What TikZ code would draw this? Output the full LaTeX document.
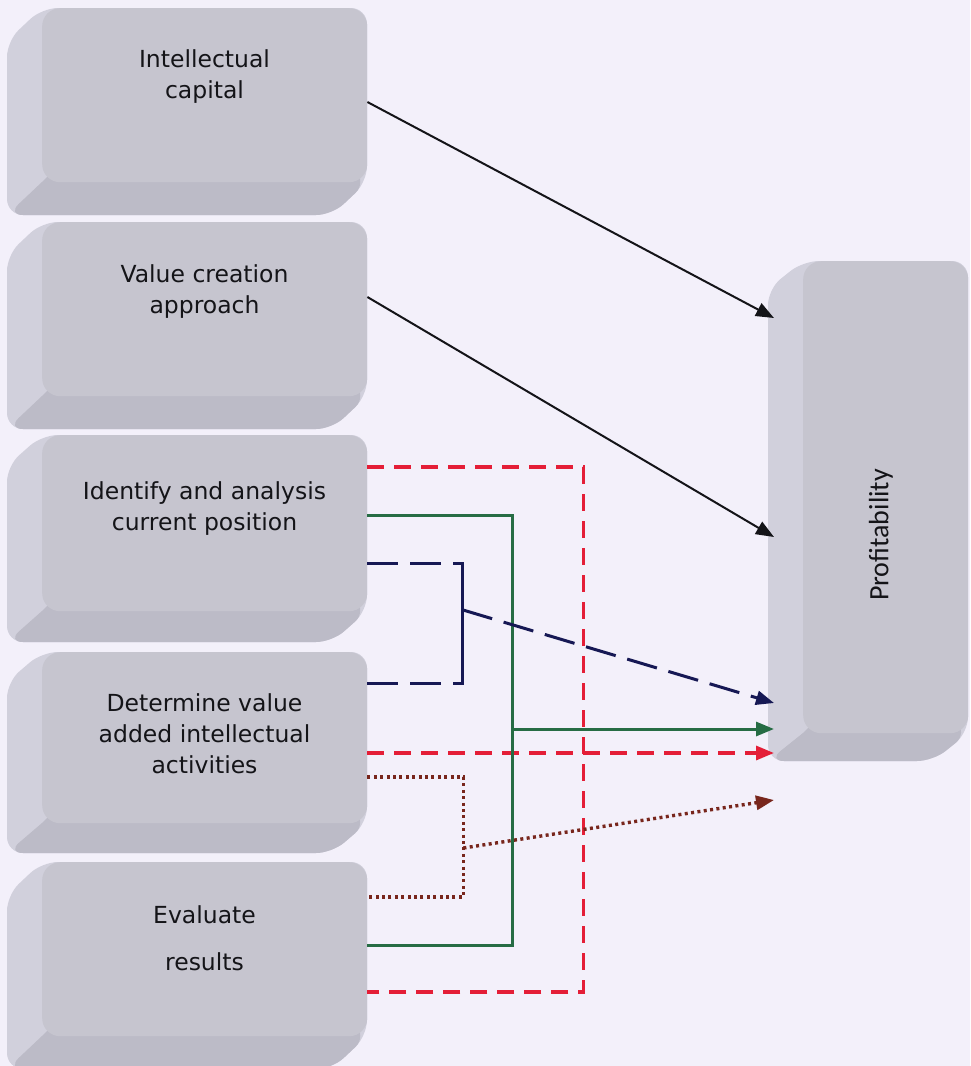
\documentclass[tikz,border=0pt]{standalone}
\usepackage{fontspec}
\setmainfont{DejaVu Sans}
\newfontfamily\calibfont{Carlito}
\usetikzlibrary{arrows.meta,calc}

\definecolor{paper}{RGB}{243,240,250}
\definecolor{facegrey}{RGB}{198,197,207}
\definecolor{sidegrey}{RGB}{209,208,220}
\definecolor{bottomgrey}{RGB}{188,187,199}
\definecolor{inkblack}{RGB}{20,20,24}
\definecolor{linkred}{RGB}{228,30,55}
\definecolor{linkgreen}{RGB}{38,108,68}
\definecolor{linknavy}{RGB}{22,24,84}
\definecolor{linkbrown}{RGB}{120,38,28}

\tikzset{
  face/.style={fill=facegrey, draw=none, rounded corners=18, inner sep=0pt},
  lbl/.style={align=center, inner sep=0pt, text=inkblack,
              font=\fontsize{23.5}{31}\selectfont},
  tip/.style={-{Triangle[length=18, width=14]}},
  blackline/.style={draw=inkblack, line width=2},
  redlink/.style={draw=linkred, line width=3.2, dash pattern=on 17 off 10},
  greenlink/.style={draw=linkgreen, line width=3},
  navylink/.style={draw=linknavy, line width=3, dash pattern=on 31 off 12},
  brownlink/.style={draw=linkbrown, line width=3.4, dash pattern=on 3 off 3.4},
}

% extruded key-like box: hull, bottom face, then the front face node
% #1 name, #2 x, #3 y (top), #4 width, #5 height, #6 depth left, #7 depth down
\newcommand\keybox[7]{%
  \fill[sidegrey, rounded corners=16]
    (#2,#3) -- ({#2+#4},#3) -- ({#2+#4},{#3+#5})
    -- ({#2+#4-#6},{#3+#5+#7}) -- ({#2-#6},{#3+#5+#7}) -- ({#2-#6},{#3+#7}) -- cycle;
  \fill[bottomgrey]
    ({#2+10},{#3+#5-10}) -- ({#2+#4-10},{#3+#5-10}) [rounded corners=16]
    -- ({#2+#4},{#3+#5}) -- ({#2+#4-#6},{#3+#5+#7}) -- ({#2-#6},{#3+#5+#7})
    [sharp corners] -- ({#2},{#3+#5}) -- cycle;
  \node[face, minimum width=#4, minimum height=#5, anchor=north west] (#1) at (#2,#3) {};
}

\begin{document}
\begin{tikzpicture}[x=1pt, y=-1pt]
\useasboundingbox[fill=paper] (0,0) rectangle (970,1066);

% left column of step boxes
\keybox{b1}{42}{8}{325}{174}{35}{33}
\keybox{b2}{42}{222}{325}{174}{35}{33}
\keybox{b3}{42}{435}{325}{176}{35}{31}
\keybox{b4}{42}{652}{325}{171}{35}{30}
\keybox{b5}{42}{862}{325}{174}{35}{33}

% result box on the right
\keybox{pf}{803}{261}{165}{472}{35}{28}

% labels, placed by the baseline of their last line
\node[lbl, anchor=base] (t1) at (204.5,98) {Intellectual\\capital};
\node[lbl, anchor=base] (t2) at (204.5,313) {Value creation\\approach};
\node[lbl, anchor=base] (t3) at (204.5,530) {Identify and analysis\\current position};
\node[lbl, anchor=base] (t4) at (204.5,773) {Determine value\\added intellectual\\activities};
\node[lbl, anchor=base] (t5) at (204.5,970) {Evaluate\\[16pt]results};
\node[rotate=90, inner sep=0pt, text=inkblack,
      font=\calibfont\fontsize{28}{28}\selectfont] (t6) at (881,535) {Profitability};

% where the arrows meet the side of the result box
\coordinate (pside) at ([xshift=-29pt]pf.west);

% direct links
\draw[blackline, tip] ([yshift=-94pt]b1.north east) -- ([yshift=-57pt]pside |- pf.north);
\draw[blackline, tip] ([yshift=-75pt]b2.north east) -- ([yshift=-276pt]pside |- pf.north);

% red dashed bracket: b3 and b5, branch from b4
\draw[redlink] ([yshift=-32pt]b3.north east) -- ++(216,0) coordinate (rtop)
  |- ([yshift=-130pt]b5.north east);
\draw[redlink, tip] ([yshift=-101pt]b4.north east) -- ([yshift=-101pt]b4.north east -| pside);

% green bracket: b3 and b5, branch from its middle
\draw[greenlink] ([yshift=-80pt]b3.north east) -- ++(145,0) coordinate (gtop)
  |- ([yshift=-83pt]b5.north east);
\coordinate (gmid) at ($(gtop)+(0,214)$);
\draw[greenlink, tip] (gmid) -- (gmid -| pside);

% navy bracket: b3 and b4
\draw[navylink] ([yshift=-128pt]b3.north east) -- ++(95,0) coordinate (ntop);
\draw[navylink] ([yshift=-31pt]b4.north east) -- ++(95,0) coordinate (nbot);
\draw[draw=linknavy, line width=3, line cap=rect] (ntop) -- (nbot);
\coordinate (nmid) at ($(ntop)!0.39!(nbot)$);
\draw[navylink, tip] (nmid) -- ([yshift=-442pt]pside |- pf.north);

% brown dotted bracket: b4 and b5
\draw[brownlink] ([yshift=-125pt]b4.north east) -- ++(96,0) coordinate (btop)
  |- ([yshift=-35pt]b5.north east);
\coordinate (bmid) at ($(btop)+(0,71)$);
\draw[brownlink, tip] (bmid) -- ([yshift=-539pt]pside |- pf.north);
\end{tikzpicture}
\end{document}
